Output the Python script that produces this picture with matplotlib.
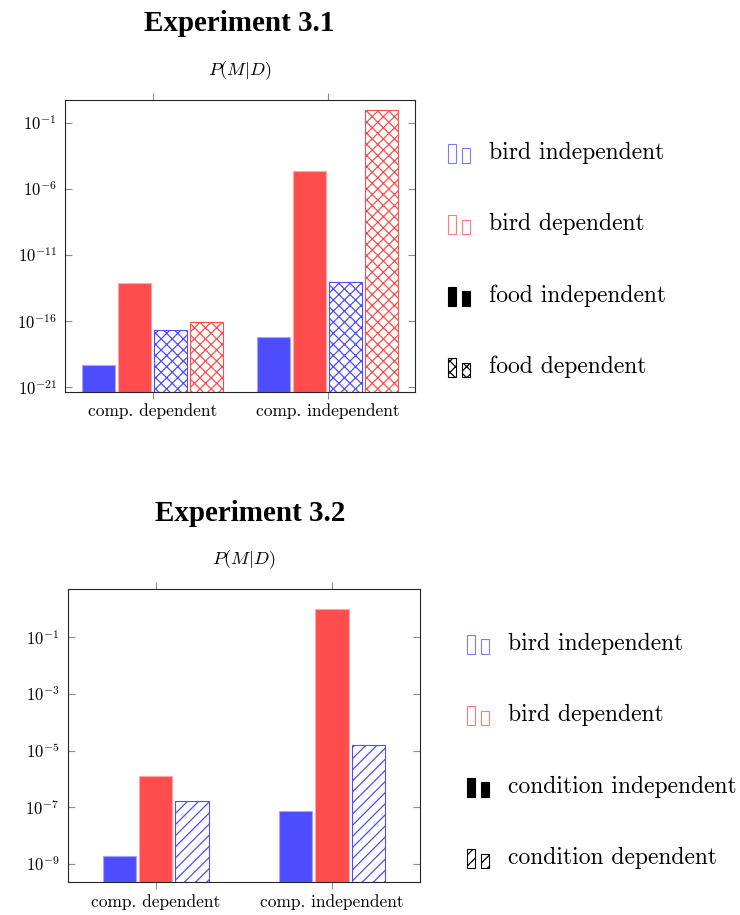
"""Two log-scale grouped bar charts of P(M|D), pgfplots look, custom two-bar legend keys."""
import numpy as np
import matplotlib
matplotlib.use("Agg")
import matplotlib.pyplot as plt
from matplotlib.patches import Patch, Rectangle
from matplotlib.legend_handler import HandlerPatch
from matplotlib.ticker import FixedLocator, FuncFormatter, NullLocator

plt.rcParams["mathtext.fontset"] = "cm"
plt.rcParams["hatch.linewidth"] = 0.9

# ---- data ----
groups = ["comp. dependent", "comp. independent"]

# Experiment 3.1
e1_bird_ind_food_ind = [5e-20, 5.8e-18]
e1_bird_dep_food_ind = [8e-14, 2.3e-5]
e1_bird_ind_food_dep = [2.2e-17, 9.5e-14]
e1_bird_dep_food_dep = [8.3e-17, 1.0]
e1_ticks = [-21, -16, -11, -6, -1]
e1_ylim = (10**-21.36, 10**0.72)
e1_legend = ["bird independent", "bird dependent", "food independent", "food dependent"]

# Experiment 3.2
e2_bird_ind_cond_ind = [1.95e-9, 7.2e-8]
e2_bird_dep_cond_ind = [1.3e-6, 1.0]
e2_bird_ind_cond_dep = [1.6e-7, 1.6e-5]
e2_ticks = [-9, -7, -5, -3, -1]
e2_ylim = (10**-9.65, 10**0.69)
e2_legend = ["bird independent", "bird dependent", "condition independent", "condition dependent"]

BLUE = "#4d4dff"
RED = "#ff4d4d"
BLUE_EDGE = "#a6a6ff"
RED_EDGE = "#ffa6a6"
TICK_GREY = "#8c8c8c"

SOLID_BLUE = dict(color=BLUE, edgecolor=BLUE_EDGE, hatch=None)
SOLID_RED = dict(color=RED, edgecolor=RED_EDGE, hatch=None)


class TwoBarHandler(HandlerPatch):
    """pgfplots-style ybar legend key: a tall bar and a shorter one."""

    def create_artists(self, legend, orig_handle, xdescent, ydescent,
                       width, height, fontsize, trans):
        x0, y0 = -xdescent, -ydescent - 2
        w = width * 0.35
        out = []
        for dx, h in ((0.0, height * 1.0), (width - w, height * 0.75)):
            r = Rectangle((x0 + dx, y0), w, h,
                          facecolor=orig_handle.get_facecolor(),
                          edgecolor=orig_handle.get_edgecolor(),
                          hatch=orig_handle.get_hatch(), lw=0.8, transform=trans)
            out.append(r)
        return out


def style_axes(ax, ticks, ylim):
    ax.set_yscale("log")
    ax.set_xlim(-0.5, 1.5)
    ax.set_ylim(*ylim)
    ax.yaxis.set_major_locator(FixedLocator([10.0**t for t in ticks]))
    ax.yaxis.set_minor_locator(NullLocator())
    ax.yaxis.set_major_formatter(FuncFormatter(lambda v, p: r"$10^{%d}$" % round(np.log10(v))))
    ax.set_xticks(range(len(groups)))
    ax.set_xticklabels(groups, fontsize=12.5, family="cmr10")
    ax.tick_params(axis="x", direction="out", top=True, bottom=True, length=4.8,
                   width=0.8, color=TICK_GREY, pad=3.5)
    ax.tick_params(axis="y", direction="in", left=True, right=True, length=4.8,
                   width=0.8, color=TICK_GREY, pad=6, labelsize=12)
    for s in ax.spines.values():
        s.set_linewidth(0.8)
        s.set_color("#262626")
    ax.annotate(r"$P(M|D)$", xy=(0.5, 1), xycoords="axes fraction", xytext=(0, 21),
                textcoords="offset points", ha="center", va="center", fontsize=13)


def draw_bars(ax, series, styles, bottom):
    n = len(series)
    step, width = 0.206, 0.189
    x = np.arange(len(groups))
    for i, (vals, st) in enumerate(zip(series, styles)):
        vals = np.asarray(vals)
        ax.bar(x + (i - (n - 1) / 2) * step, vals - bottom, width, bottom=bottom,
               color=st["color"], edgecolor=st["edgecolor"], hatch=st["hatch"], lw=0.8)


fig = plt.figure(figsize=(7.4, 9.15), dpi=100)

# ---- Experiment 3.1 ----
ax1 = fig.add_axes([65 / 740, 1 - 392 / 915, 350 / 740, 292 / 915])
style_axes(ax1, e1_ticks, e1_ylim)
draw_bars(ax1,
          [e1_bird_ind_food_ind, e1_bird_dep_food_ind, e1_bird_ind_food_dep, e1_bird_dep_food_dep],
          [SOLID_BLUE, SOLID_RED,
           dict(color="white", edgecolor=BLUE, hatch="xxx"),
           dict(color="white", edgecolor=RED, hatch="xxx")],
          e1_ylim[0])
fig.text(239 / 740, 1 - 23.5 / 915, "Experiment 3.1", ha="center", va="center",
         fontsize=21, fontweight="bold", family="Liberation Serif")

# ---- Experiment 3.2 ----
ax2 = fig.add_axes([67.7 / 740, 1 - 882.3 / 915, 352.3 / 740, 293 / 915])
style_axes(ax2, e2_ticks, e2_ylim)
draw_bars(ax2,
          [e2_bird_ind_cond_ind, e2_bird_dep_cond_ind, e2_bird_ind_cond_dep],
          [SOLID_BLUE, SOLID_RED, dict(color="white", edgecolor=BLUE, hatch="///")],
          e2_ylim[0])
fig.text(250 / 740, 1 - 513.5 / 915, "Experiment 3.2", ha="center", va="center",
         fontsize=21, fontweight="bold", family="Liberation Serif")


def legend_keys(last_hatch):
    return [Patch(facecolor="white", edgecolor="#7a7aff"),
            Patch(facecolor="white", edgecolor="#ff7a7a"),
            Patch(facecolor="black", edgecolor="black"),
            Patch(facecolor="white", edgecolor="black", hatch=last_hatch)]


for keys, labels, anchor in ((legend_keys("xxx"), e1_legend, (448 / 740, 1 - 141 / 915)),
                             (legend_keys("///"), e2_legend, (467 / 740, 1 - 632 / 915))):
    fig.legend(keys, labels, loc="upper left", bbox_to_anchor=anchor, frameon=False,
               prop={"family": "cmr10", "size": 17}, handler_map={Patch: TwoBarHandler()},
               handlelength=0.93, handleheight=0.85, handletextpad=0.8,
               labelspacing=2.07, borderpad=0, borderaxespad=0)

fig.savefig("out.png", dpi=100)
